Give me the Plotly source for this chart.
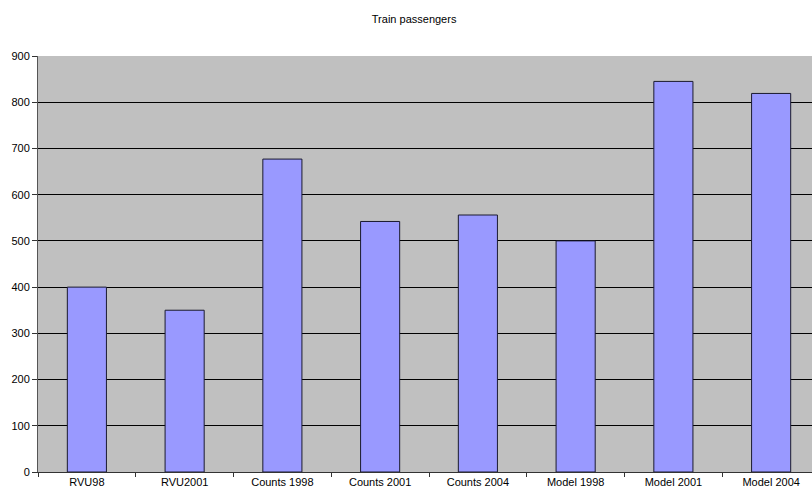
import plotly.graph_objects as go

categories = ["RVU98", "RVU2001", "Counts 1998", "Counts 2001", "Counts 2004",
              "Model 1998", "Model 2001", "Model 2004"]
passengers = [400, 350, 677, 542, 556, 500, 845, 819]
y_ticks = [0, 100, 200, 300, 400, 500, 600, 700, 800, 900]

fig = go.Figure()
fig.add_trace(go.Bar(
    x=categories, y=passengers, width=0.4,
    marker=dict(color="#9999FF", line=dict(color="#1a1a2e", width=1)),
))

font = "Liberation Sans, Arial, sans-serif"
fig.update_layout(
    width=812, height=498,
    margin=dict(l=38, r=0, t=56, b=26),
    paper_bgcolor="white", plot_bgcolor="#C0C0C0",
    showlegend=False,
    title=dict(text="Train passengers", x=0.51, xanchor="center", y=0.961, yanchor="middle",
               font=dict(family=font, size=11, color="black")),
    font=dict(family=font, size=11, color="black"),
)
# the reference plot area runs past the right edge of the picture
fig.update_xaxes(
    range=[-0.5, 7.418], showgrid=False, tickson="boundaries",
    ticks="outside", ticklen=4, tickcolor="#333", showline=True,
    linecolor="#333", linewidth=1, tickfont=dict(size=11), fixedrange=True,
)
fig.update_yaxes(
    range=[0, 900], tickvals=y_ticks, showgrid=True, gridcolor="black", gridwidth=1,
    ticks="outside", ticklen=5, tickcolor="#333", showline=True, linecolor="#555",
    linewidth=1, zeroline=False, tickfont=dict(size=11), fixedrange=True,
)
fig.write_html(
    "out.html",
    config={"displayModeBar": False},
    post_script="document.body.style.margin='0';document.body.style.overflow='hidden';",
)
